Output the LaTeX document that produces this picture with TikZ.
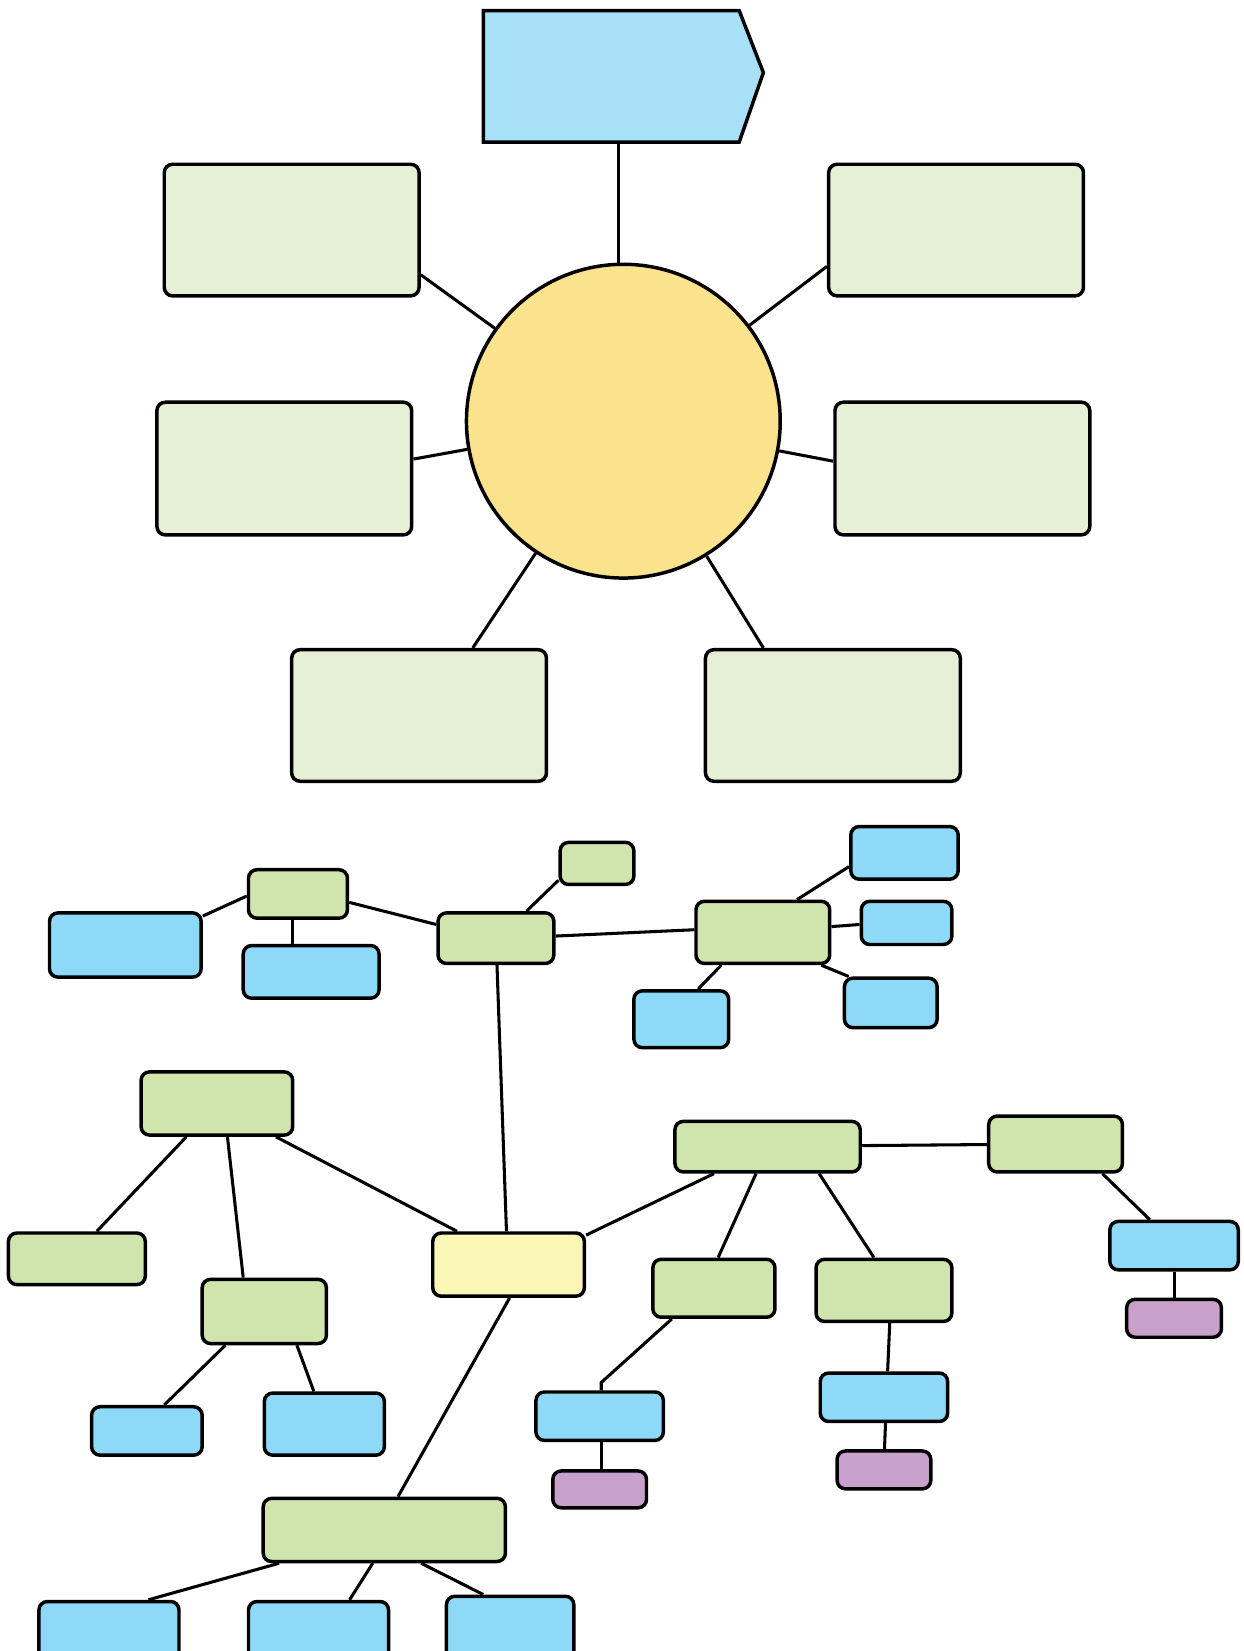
\documentclass[tikz,border=0pt]{standalone}
\usetikzlibrary{calc}
\definecolor{arrowblue}{HTML}{A8E0F8}
\definecolor{sunyellow}{HTML}{FBE28C}
\definecolor{palegreen}{HTML}{E5F0D6}
\definecolor{leafgreen}{HTML}{D0E5AE}
\definecolor{skyblue}{HTML}{8ED9F7}
\definecolor{rootyellow}{HTML}{FBF7B6}
\definecolor{lilac}{HTML}{C7A0CB}
\tikzset{
  boxbase/.style={draw=black, line width=3.3pt, rounded corners=8pt, inner sep=0pt},
  palebox/.style={boxbase, fill=palegreen},
  greenbox/.style={boxbase, fill=leafgreen},
  bluebox/.style={boxbase, fill=skyblue},
  rootbox/.style={boxbase, fill=rootyellow},
  purplebox/.style={boxbase, fill=lilac},
  link/.style={line width=2.9pt, draw=black}
}
\newcommand\bx[6]{\node[#6, minimum width={(#4-#2)*1pt}, minimum height={(#5-#3)*1pt}] (#1) at ({(#2+#4)/2},{(#3+#5)/2}) {};}
\begin{document}
\begin{tikzpicture}[x=1pt,y=-1pt]
\useasboundingbox (0,0) rectangle (1181,1568);
\clip (0,0) rectangle (1181,1568);
% ---- top part ----
\draw[line width=3.3pt, fill=arrowblue] (459,10) -- (702,10) -- (725,69) -- (702,135) -- (459,135) -- cycle;
\coordinate (hb) at (587,135);
\node[circle, draw=black, line width=3.3pt, fill=sunyellow, minimum size=298pt, inner sep=0pt] (c) at (592,400) {};
\draw[link] (hb) -- (hb |- c.north);
\bx{tl}{156}{156}{398}{281}{palebox}
\bx{tr}{787}{156}{1029}{281}{palebox}
\bx{ml}{149}{382}{391}{508}{palebox}
\bx{mr}{793}{382}{1035}{508}{palebox}
\bx{bl}{277}{617}{519}{742}{palebox}
\bx{br}{670}{617}{912}{742}{palebox}
\draw[link] (tl.east |- 0,261) -- (c);
\draw[link] (tr.west |- 0,253) -- (c);
\draw[link] (ml.east |- 0,436) -- (c);
\draw[link] (mr.west |- 0,438) -- (c);
\draw[link] (bl.north -| 449,0) -- (c);
\draw[link] (br.north -| 725,0) -- (c);
% ---- mind map ----
\bx{root}{411}{1171}{555}{1231}{rootbox}
\bx{g1}{236}{826}{330}{872}{greenbox}
\bx{b1}{47}{867}{191}{928}{bluebox}
\bx{b2}{231}{898}{360}{948}{bluebox}
\bx{g2}{416}{867}{526}{915}{greenbox}
\bx{g3}{532}{800}{602}{840}{greenbox}
\bx{g4}{661}{856}{788}{915}{greenbox}
\bx{b3}{808}{785}{910}{835}{bluebox}
\bx{b4}{818}{856}{904}{897}{bluebox}
\bx{b5}{602}{941}{692}{995}{bluebox}
\bx{b6}{802}{929}{890}{976}{bluebox}
\bx{g5}{134}{1018}{278}{1078}{greenbox}
\bx{g6}{8}{1171}{138}{1220}{greenbox}
\bx{g7}{192}{1215}{310}{1276}{greenbox}
\bx{b7}{87}{1336}{192}{1382}{bluebox}
\bx{b8}{251}{1323}{365}{1382}{bluebox}
\bx{g8}{641}{1065}{817}{1113}{greenbox}
\bx{g9}{939}{1060}{1066}{1113}{greenbox}
\bx{b9}{1054}{1160}{1176}{1206}{bluebox}
\bx{p1}{1070}{1234}{1160}{1270}{purplebox}
\bx{g10}{620}{1196}{736}{1251}{greenbox}
\bx{g11}{775}{1196}{904}{1255}{greenbox}
\bx{b10}{509}{1322}{630}{1368}{bluebox}
\bx{p2}{525}{1397}{614}{1432}{purplebox}
\bx{b11}{779}{1304}{900}{1350}{bluebox}
\bx{p3}{795}{1378}{884}{1414}{purplebox}
\bx{g12}{250}{1423}{480}{1483}{greenbox}
\bx{b12}{37}{1521}{170}{1600}{bluebox}
\bx{b13}{236}{1521}{369}{1600}{bluebox}
\bx{b14}{424}{1516}{545}{1600}{bluebox}
\coordinate (k1) at (571,1313);
% links
\draw[link] (b1.east |- 0,870) -- (g1.west |- 0,851);
\draw[link] (g1.south -| 278,0) -- (b2.north -| 278,0);
\draw[link] (g1.east |- 0,857) -- (g2.west |- 0,878);
\draw[link] (g2.north -| 500,0) -- (g3.west |- 0,836);
\draw[link] (g2.east |- 0,889) -- (g4.west |- 0,883);
\draw[link] (g4.north -| 757,0) -- (b3.west |- 0,823);
\draw[link] (g4.east |- 0,880) -- (b4.west |- 0,878);
\draw[link] (g4.south -| 685,0) -- (b5.north -| 663,0);
\draw[link] (g4.south -| 780,0) -- (b6.north -| 806,0);
\draw[link] (g2.south -| 472,0) -- (root.north -| 481,0);
\draw[link] (g5.south -| 177,0) -- (g6.north -| 92,0);
\draw[link] (g5.south -| 216,0) -- (g7.north -| 231,0);
\draw[link] (g5.south -| 262,0) -- (root.north -| 434,0);
\draw[link] (g7.south -| 214,0) -- (b7.north -| 156,0);
\draw[link] (g7.south -| 282,0) -- (b8.north -| 298,0);
\draw[link] (root.east |- 0,1173) -- (g8.south -| 678,0);
\draw[link] (g8.east |- 0,1088) -- (g9.west |- 0,1087);
\draw[link] (g9.south -| 1047,0) -- (b9.north -| 1092,0);
\draw[link] (b9.south -| 1115,0) -- (p1.north -| 1115,0);
\draw[link] (g8.south -| 718,0) -- (g10.north -| 682,0);
\draw[link] (g8.south -| 778,0) -- (g11.north -| 830,0);
\draw[link] (g10.south -| 638,0) -- (k1) -- (b10.north -| 571,0);
\draw[link] (b10.south -| 571,0) -- (p2.north -| 571,0);
\draw[link] (g11.south -| 845,0) -- (b11.north -| 843,0);
\draw[link] (b11.south -| 841,0) -- (p3.north -| 840,0);
\draw[link] (root.south -| 484,0) -- (g12.north -| 378,0);
\draw[link] (g12.south -| 265,0) -- (b12.north -| 141,0);
\draw[link] (g12.south -| 354,0) -- (b13.north -| 332,0);
\draw[link] (g12.south -| 400,0) -- (b14.north -| 459,0);
\end{tikzpicture}
\end{document}
